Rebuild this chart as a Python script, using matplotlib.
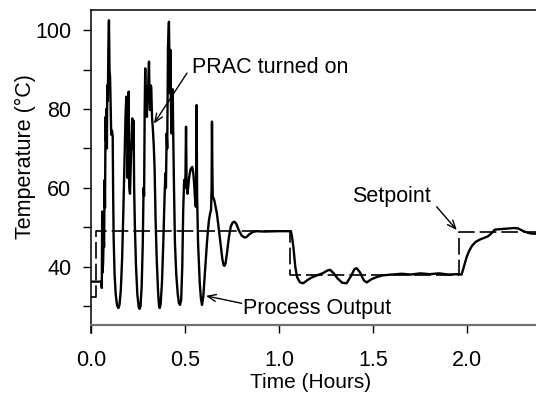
import numpy as np
import matplotlib.pyplot as plt
from matplotlib.lines import Line2D

plt.rcParams['font.family'] = ['Liberation Sans', 'DejaVu Sans']

# setpoint (step changes)
sp_t = [0.0, 0.025, 1.057, 1.957, 2.4]
sp_T = [32.4, 49.0, 37.9, 48.9, 48.9]

# process output
pv_t = [0.000, 0.050, 0.054, 0.056, 0.058, 0.060, 0.063, 0.066, 0.068, 0.071,
        0.073, 0.076, 0.078, 0.080, 0.083, 0.085, 0.088, 0.091, 0.094, 0.097,
        0.100, 0.103, 0.106, 0.110, 0.114, 0.116, 0.119, 0.124, 0.130, 0.137,
        0.144, 0.150, 0.157, 0.164, 0.171, 0.177, 0.182, 0.186, 0.190, 0.193,
        0.196, 0.199, 0.202, 0.206, 0.210, 0.214, 0.218, 0.222, 0.225, 0.228,
        0.232, 0.238, 0.245, 0.252, 0.257, 0.262, 0.268, 0.274, 0.278, 0.281,
        0.284, 0.287, 0.290, 0.293, 0.296, 0.298, 0.301, 0.304, 0.307, 0.310,
        0.312, 0.316, 0.319, 0.323, 0.328, 0.333, 0.337, 0.342, 0.348, 0.355,
        0.360, 0.364, 0.369, 0.376, 0.383, 0.390, 0.394, 0.397, 0.401, 0.404,
        0.408, 0.413, 0.416, 0.418, 0.421, 0.424, 0.427, 0.430, 0.433, 0.436,
        0.440, 0.445, 0.452, 0.460, 0.466, 0.472, 0.478, 0.484, 0.489, 0.494,
        0.498, 0.501, 0.504, 0.507, 0.512, 0.516, 0.521, 0.526, 0.530, 0.537,
        0.543, 0.548, 0.551, 0.556, 0.558, 0.560, 0.563, 0.568, 0.573, 0.577,
        0.583, 0.589, 0.596, 0.603, 0.609, 0.615, 0.621, 0.626, 0.632, 0.637,
        0.640, 0.642, 0.644, 0.646, 0.651, 0.656, 0.662, 0.668, 0.676, 0.683,
        0.690, 0.697, 0.703, 0.708, 0.714, 0.722, 0.732, 0.742, 0.752, 0.762,
        0.772, 0.785, 0.800, 0.815, 0.826, 0.840, 0.860, 0.880, 0.920, 1.000,
        1.062, 1.068, 1.075, 1.085, 1.095, 1.110, 1.128, 1.150, 1.170, 1.200,
        1.230, 1.255, 1.270, 1.290, 1.310, 1.335, 1.358, 1.380, 1.400, 1.412,
        1.430, 1.450, 1.465, 1.490, 1.520, 1.550, 1.600, 1.650, 1.700, 1.750,
        1.800, 1.850, 1.900, 1.950, 1.970, 1.985, 1.997, 2.010, 2.025, 2.045,
        2.068, 2.090, 2.110, 2.125, 2.147, 2.200, 2.250, 2.270, 2.290, 2.315,
        2.340, 2.400]
pv_T = [36.2, 36.2, 35.5, 34.6, 54.0, 38.5, 41.0, 48.0, 45.0, 62.0,
        55.0, 78.0, 72.0, 80.0, 70.0, 86.0, 82.0, 96.0, 102.5, 90.0,
        88.0, 80.0, 73.5, 74.5, 73.0, 60.0, 47.0, 38.0, 33.0, 30.2,
        29.5, 30.3, 34.0, 42.0, 55.0, 68.0, 78.0, 83.1, 82.5, 62.5,
        70.0, 84.4, 60.0, 58.5, 66.0, 72.0, 77.6, 70.0, 77.0, 60.0,
        50.0, 40.0, 33.0, 29.8, 29.3, 30.0, 35.0, 46.0, 60.0, 58.0,
        79.7, 90.3, 80.0, 84.0, 78.0, 85.6, 82.0, 88.0, 92.0, 82.0,
        79.7, 86.0, 85.6, 78.0, 74.6, 70.0, 64.5, 52.0, 42.0, 34.0,
        30.2, 29.5, 30.5, 36.0, 46.0, 58.0, 63.7, 60.0, 73.8, 70.0,
        95.8, 102.1, 90.0, 84.0, 95.0, 80.0, 73.8, 78.0, 85.0, 73.0,
        60.0, 46.0, 38.0, 33.0, 30.8, 30.3, 31.5, 40.0, 54.4, 62.0,
        60.0, 63.0, 75.5, 61.1, 58.5, 60.5, 62.8, 64.2, 64.9, 65.3,
        63.6, 60.5, 57.7, 55.2, 62.0, 81.0, 57.7, 46.0, 40.0, 35.8,
        32.0, 30.3, 32.5, 37.5, 42.0, 45.9, 49.5, 51.8, 53.5, 54.4,
        60.0, 76.8, 65.0, 57.7, 57.3, 56.5, 55.0, 53.5, 50.5, 47.6,
        44.5, 42.0, 40.5, 40.2, 40.8, 43.5, 47.5, 50.2, 51.2, 51.4,
        50.8, 49.2, 47.9, 47.4, 47.5, 48.2, 48.8, 49.0, 48.9, 49.0,
        49.0, 47.5, 45.0, 40.0, 37.3, 36.0, 35.8, 36.6, 37.2, 37.8,
        38.3, 39.0, 39.2, 38.3, 37.0, 35.9, 35.8, 37.5, 39.4, 39.6,
        38.5, 36.5, 36.0, 36.8, 37.4, 37.8, 38.0, 38.2, 38.0, 38.3,
        38.1, 38.3, 38.0, 38.1, 38.0, 40.5, 42.5, 44.0, 45.3, 46.3,
        46.9, 47.3, 47.7, 48.3, 49.4, 49.6, 49.8, 49.7, 49.2, 48.7,
        48.4, 48.3]

fig = plt.figure(figsize=(5.36, 3.94), dpi=100)
ax = fig.add_axes([0.1703, 0.1751, 0.8418, 0.7995])

ax.plot(sp_t, sp_T, color='black', lw=1.2, ls=(0, (10, 3)), drawstyle='steps-post')
ax.plot(pv_t, pv_T, color='black', lw=1.7)

ax.set_xlim(0, 2.4)
ax.set_ylim(25.2, 105.1)
ax.set_xticks([0, 0.5, 1.0, 1.5, 2.0])
ax.set_xticklabels(['0.0', '0.5', '1.0', '1.5', '2.0'])
ax.set_yticks([40, 60, 80, 100])
ax.set_yticks([30, 50, 70, 90], minor=True)
ax.tick_params(axis='both', which='both', direction='out', length=5.8, width=1,
               labelsize=15.5)
ax.tick_params(axis='y', pad=8.7)
ax.tick_params(axis='x', pad=12.5)

ax.spines['right'].set_visible(False)
ax.spines['bottom'].set_color('#707070')
ax.spines['bottom'].set_linewidth(1.6)
ax.spines['left'].set_linewidth(1.1)
ax.spines['top'].set_linewidth(1.1)
# left axis line runs a little past the bottom axis
ax.add_line(Line2D([0, 0], [0, -0.026], transform=ax.transAxes, color='black',
                   lw=1.1, clip_on=False))

ax.set_xlabel('Time (Hours)', fontsize=15, va='center')
ax.xaxis.set_label_coords(0.487, -0.183)
ax.set_ylabel('Temperature (°C)', fontsize=15.5, va='center')
ax.yaxis.set_label_coords(-0.147, 0.534)

arrow = dict(arrowstyle='->,head_length=0.6,head_width=0.25', color='black',
             lw=1, shrinkA=0, shrinkB=0)
ax.text(0.534, 90.4, 'PRAC turned on', fontsize=15.5, va='center', ha='left')
ax.annotate('', xy=(0.3335, 76.3), xytext=(0.509, 89.1), arrowprops=arrow)
ax.text(1.385, 57.7, 'Setpoint', fontsize=15.5, va='center', ha='left')
ax.annotate('', xy=(1.944, 49.3), xytext=(1.837, 55.2), arrowprops=arrow)
ax.text(0.805, 29.4, 'Process Output', fontsize=15.5, va='center', ha='left')
ax.annotate('', xy=(0.610, 32.6), xytext=(0.800, 30.7), arrowprops=arrow)

fig.savefig('out.png', dpi=100)
